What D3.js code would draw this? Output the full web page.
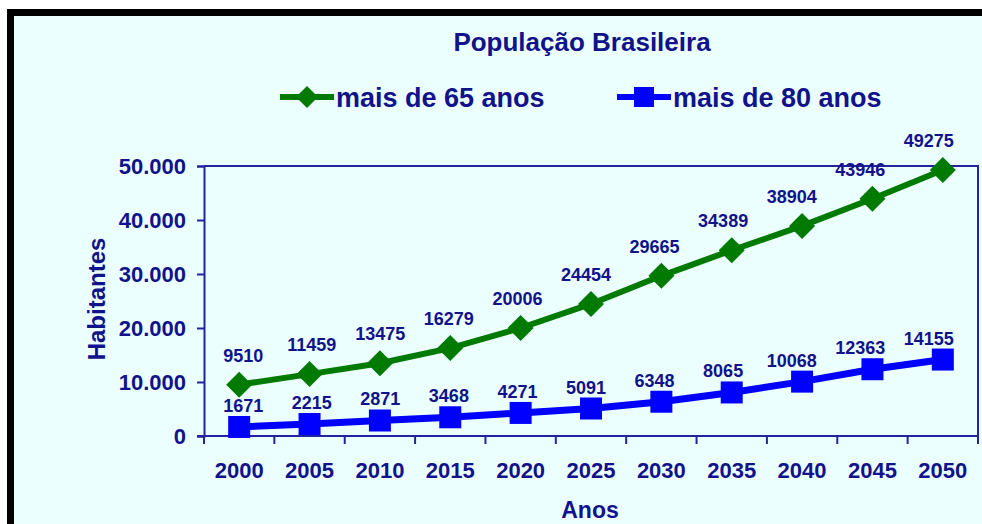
<!DOCTYPE html>
<html>
<head>
<meta charset="utf-8">
<script src="https://cdn.jsdelivr.net/npm/d3@7"></script>
<style>
  html, body { margin: 0; padding: 0; background: #ffffff; }
  svg { display: block; font-family: "Liberation Sans", Arial, sans-serif; }
</style>
</head>
<body>
<div id="chart_div"></div>
<script>
// data
const anos = ["2000", "2005", "2010", "2015", "2020", "2025", "2030", "2035", "2040", "2045", "2050"]
const mais65 = [9510, 11459, 13475, 16279, 20006, 24454, 29665, 34389, 38904, 43946, 49275]
const mais80 = [1671, 2215, 2871, 3468, 4271, 5091, 6348, 8065, 10068, 12363, 14155]
const yTicks = [0, 10000, 20000, 30000, 40000, 50000]
const seriesNames = ["mais de 65 anos", "mais de 80 anos"]

const textColor = "#12128a"
const axisColor = "#2323a0"
const greenColor = "#007a00"
const blueColor = "#0000ff"
const bgColor = "#ebffff"

const W = 982, H = 524

// plot area
const plot = { left: 204, right: 978, top: 166, bottom: 436 }

const svg = d3.select("#chart_div")
  .append("svg")
  .attr("width", W)
  .attr("height", H)

// frame: black top + left border, light cyan fill
svg.append("rect")
  .attr("x", 7).attr("y", 9)
  .attr("width", W - 7).attr("height", H - 9)
  .attr("fill", "#000")
svg.append("rect")
  .attr("x", 14).attr("y", 16)
  .attr("width", W - 14).attr("height", H - 16)
  .attr("fill", bgColor)

const x = d3.scaleBand()
  .domain(anos)
  .range([plot.left, plot.right])
  .padding(0)

const y = d3.scaleLinear()
  .domain([0, 50000])
  .range([plot.bottom, plot.top])

const ptBR = d3.formatLocale({ decimal: ",", thousands: ".", grouping: [3], currency: ["R$", ""] })
const fmt = ptBR.format(",d")

// plot area box (top + right)
svg.append("path")
  .attr("d", `M${plot.left},${plot.top}H${plot.right}V${plot.bottom + 8}`)
  .attr("fill", "none")
  .attr("stroke", axisColor)
  .attr("stroke-width", 2)

// Y axis
const yAxis = svg.append("g")
  .attr("transform", `translate(${plot.left},0)`)
  .call(d3.axisLeft(y).tickValues(yTicks).tickFormat(fmt).tickSize(7).tickPadding(11))
yAxis.select(".domain").attr("stroke", axisColor).attr("stroke-width", 2)
yAxis.selectAll(".tick line").attr("stroke", axisColor).attr("stroke-width", 2)
yAxis.selectAll(".tick text")
  .attr("fill", textColor)
  .attr("font-size", 22)
  .attr("font-weight", "bold")
  .attr("font-family", "Liberation Sans, Arial, sans-serif")

// X axis: ticks at band edges, labels at centers
const xAxis = svg.append("g")
  .attr("transform", `translate(0,${plot.bottom})`)
xAxis.append("line")
  .attr("x1", plot.left - 7).attr("x2", plot.right)
  .attr("stroke", axisColor).attr("stroke-width", 2)
const edges = anos.map(a => x(a)).concat([x(anos[anos.length - 1]) + x.bandwidth()])
xAxis.selectAll(".edge")
  .data(edges)
  .join("line")
  .attr("x1", d => d).attr("x2", d => d)
  .attr("y1", 0).attr("y2", 8)
  .attr("stroke", axisColor).attr("stroke-width", 2)
xAxis.selectAll(".lbl")
  .data(anos)
  .join("text")
  .attr("x", d => x(d) + x.bandwidth() / 2)
  .attr("y", 42)
  .attr("text-anchor", "middle")
  .attr("fill", textColor)
  .attr("font-size", 22)
  .attr("font-weight", "bold")
  .text(d => d)

// axis titles
svg.append("text")
  .attr("x", 590).attr("y", 518)
  .attr("text-anchor", "middle")
  .attr("fill", textColor)
  .attr("font-size", 23)
  .attr("font-weight", "bold")
  .text("Anos")

svg.append("text")
  .attr("transform", "translate(105,299) rotate(-90)")
  .attr("text-anchor", "middle")
  .attr("fill", textColor)
  .attr("font-size", 24)
  .attr("font-weight", "bold")
  .text("Habitantes")

// title
svg.append("text")
  .attr("x", 582).attr("y", 51)
  .attr("text-anchor", "middle")
  .attr("fill", textColor)
  .attr("font-size", 26)
  .attr("font-weight", "bold")
  .text("População Brasileira")

const cx = d => x(d) + x.bandwidth() / 2
const line = d3.line()
  .x(d => cx(d.ano))
  .y(d => y(d.v))

const green = anos.map((a, i) => ({ ano: a, v: mais65[i], i: i }))
const blue = anos.map((a, i) => ({ ano: a, v: mais80[i], i: i }))

const diamond = s => `M0,${-s}L${s},0L0,${s}L${-s},0Z`

// green series
svg.append("path")
  .datum(green)
  .attr("fill", "none")
  .attr("stroke", greenColor)
  .attr("stroke-width", 6)
  .attr("d", line)
svg.selectAll(".dia")
  .data(green)
  .join("path")
  .attr("transform", d => `translate(${cx(d.ano)},${y(d.v)})`)
  .attr("d", diamond(13))
  .attr("fill", greenColor)

// blue series
svg.append("path")
  .datum(blue)
  .attr("fill", "none")
  .attr("stroke", blueColor)
  .attr("stroke-width", 7)
  .attr("d", line)
svg.selectAll(".sq")
  .data(blue)
  .join("rect")
  .attr("x", d => cx(d.ano) - 11)
  .attr("y", d => y(d.v) - 11)
  .attr("width", 22).attr("height", 22)
  .attr("fill", blueColor)

// data labels (they drift a little to the left going right, like the original)
const addLabels = (data, dy) => {
  svg.selectAll(null)
    .data(data)
    .join("text")
    .attr("x", d => cx(d.ano) + 4 - d.i * 1.8)
    .attr("y", d => y(d.v) + dy)
    .attr("text-anchor", "middle")
    .attr("fill", textColor)
    .attr("font-size", 18)
    .attr("font-weight", "bold")
    .text(d => d.v)
}
addLabels(green, -23)
addLabels(blue, -15)

// legend
const legend = svg.append("g")
const legendItems = [
  { name: seriesNames[0], color: greenColor, x: 280, shape: "diamond" },
  { name: seriesNames[1], color: blueColor, x: 617, shape: "square" }
]
legendItems.forEach(it => {
  legend.append("line")
    .attr("x1", it.x).attr("x2", it.x + 54)
    .attr("y1", 97).attr("y2", 97)
    .attr("stroke", it.color).attr("stroke-width", 6)
  if (it.shape === "diamond") {
    legend.append("path")
      .attr("transform", `translate(${it.x + 27},97)`)
      .attr("d", diamond(11))
      .attr("fill", it.color)
  } else {
    legend.append("rect")
      .attr("x", it.x + 17).attr("y", 87)
      .attr("width", 20).attr("height", 20)
      .attr("fill", it.color)
  }
  legend.append("text")
    .attr("x", it.x + 56).attr("y", 107)
    .attr("fill", textColor)
    .attr("font-size", 27)
    .attr("font-weight", "bold")
    .text(it.name)
})
</script>
</body>
</html>
